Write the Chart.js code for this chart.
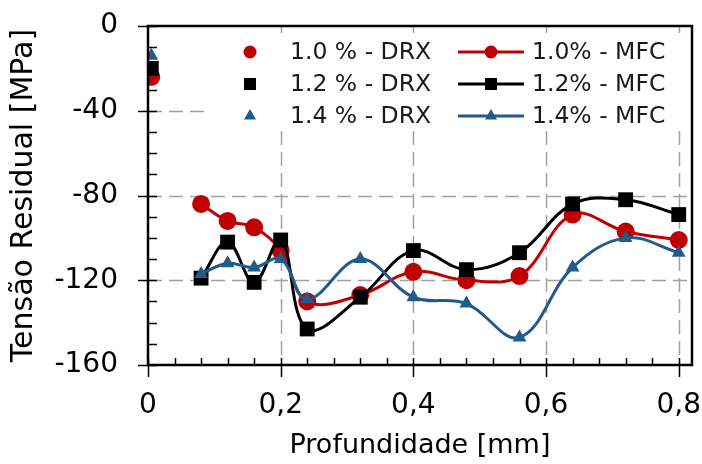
<!DOCTYPE html>
<html>
<head>
<meta charset="utf-8">
<script src="https://cdn.jsdelivr.net/npm/chart.js@4/dist/chart.umd.min.js"></script>
<style>
  html, body { margin: 0; padding: 0; background: #fff; }
  #wrap { width: 702px; height: 464px; }
</style>
</head>
<body>
<div id="wrap"><canvas id="chart" width="702" height="464"></canvas></div>
<script>
// depth [mm] of the MFC measurements
const depth = [0.08, 0.12, 0.16, 0.2, 0.24, 0.32, 0.4, 0.48, 0.56, 0.64, 0.72, 0.8];
// residual stress [MPa], MFC curves
const mfc10 = [-84, -92, -95, -106, -130, -127, -116, -120, -118, -89, -97, -101];
const mfc12 = [-119, -102, -121, -101, -143, -128, -106, -115, -107, -84, -82, -89];
const mfc14 = [-117, -112, -114, -110, -129, -110, -128, -131, -147, -114, -100, -107];
// surface values measured by DRX
const drxDepth = [0.005];
const drx10 = [-24];
const drx12 = [-20];
const drx14 = [-14];
// tick labels
const xTicks = [0, 0.2, 0.4, 0.6, 0.8];
const yTicks = [-160, -120, -80, -40, 0];

const RED = '#C00000';
const BLACK = '#000000';
const BLUE = '#235A8C';
const FONT = "'DejaVu Sans', sans-serif";

const pts = (xs, ys) => xs.map((x, i) => ({ x, y: ys[i] }));

// small marker painter, used for the legend
function marker(ctx, style, r, x, y, color) {
  ctx.fillStyle = color;
  ctx.beginPath();
  if (style === 'circle') {
    ctx.arc(x, y, r, 0, Math.PI * 2);
  } else if (style === 'rect') {
    const s = r * Math.SQRT1_2;
    ctx.rect(x - s, y - s, 2 * s, 2 * s);
  } else {
    for (let k = 0; k < 3; k++) {
      const a = k * 2 * Math.PI / 3;
      const px = x + Math.sin(a) * r, py = y - Math.cos(a) * r;
      k ? ctx.lineTo(px, py) : ctx.moveTo(px, py);
    }
    ctx.closePath();
  }
  ctx.fill();
}

const LEG_BOX = { x: 207, y: 33, w: 482, h: 96 };

const decor = {
  id: 'decor',
  beforeDatasetsDraw(chart) {
    const { ctx, chartArea: a, scales: { x, y } } = chart;
    ctx.save();
    ctx.strokeStyle = '#A0A0A0';
    ctx.lineWidth = 1.5;
    ctx.setLineDash([14, 7]);
    xTicks.filter(v => v > 0).forEach(v => {
      const px = Math.round(x.getPixelForValue(v)) + 0.5;
      ctx.beginPath(); ctx.moveTo(px, a.top); ctx.lineTo(px, a.bottom); ctx.stroke();
    });
    yTicks.filter(v => v > -160 && v < 0).forEach(v => {
      const py = Math.round(y.getPixelForValue(v)) + 0.5;
      ctx.beginPath(); ctx.moveTo(a.left, py); ctx.lineTo(a.right, py); ctx.stroke();
    });
    ctx.setLineDash([]);
    // legend background hides the grid behind it
    ctx.fillStyle = '#fff';
    ctx.fillRect(LEG_BOX.x, LEG_BOX.y, LEG_BOX.w, LEG_BOX.h);
    ctx.restore();
  },
  afterDraw(chart) {
    const { ctx, chartArea: a, scales: { x, y } } = chart;
    ctx.save();
    // ticks
    ctx.strokeStyle = '#000';
    ctx.lineWidth = 1.5;
    for (let v = -160; v <= 0; v += 10) {
      const py = Math.round(y.getPixelForValue(v)) + 0.5;
      const major = v % 40 === 0;
      ctx.beginPath();
      ctx.moveTo(major ? a.left - 10 : a.left, py);
      ctx.lineTo(a.left + 9, py);
      ctx.stroke();
    }
    for (let i = 0; i <= 20; i++) {
      const v = i * 0.04;
      const px = Math.round(x.getPixelForValue(v)) + 0.5;
      const major = i % 5 === 0;
      ctx.beginPath();
      ctx.moveTo(px, major ? a.bottom + 12 : a.bottom);
      ctx.lineTo(px, a.bottom - 7);
      ctx.stroke();
    }
    // frame
    ctx.lineWidth = 2.5;
    ctx.strokeRect(a.left, a.top, a.right - a.left, a.bottom - a.top);

    // legend
    const rows = [52, 84, 116];
    ctx.font = '23.5px ' + FONT;
    ctx.textBaseline = 'middle';
    ctx.textAlign = 'left';
    chart.data.datasets.forEach(ds => {
      const r = rows[ds.row];
      if (ds.showLine === false) {
        marker(ctx, ds.pointStyle, ds.legendR, 250, r, ds.backgroundColor);
        ctx.fillStyle = '#1a1a1a';
        ctx.fillText(ds.label, 290, r + 1);
      } else {
        ctx.strokeStyle = ds.borderColor;
        ctx.lineWidth = 3;
        ctx.beginPath(); ctx.moveTo(458, r); ctx.lineTo(524, r); ctx.stroke();
        marker(ctx, ds.pointStyle, ds.legendR, 491, r, ds.backgroundColor);
        ctx.fillStyle = '#1a1a1a';
        ctx.fillText(ds.label, 532, r + 1);
      }
    });
    ctx.restore();
  }
};

const drxSet = (label, ys, style, color, radius, legendR, row) => ({
  label, data: pts(drxDepth, ys), showLine: false,
  pointStyle: style, pointRadius: radius, pointBorderWidth: 0,
  backgroundColor: color, borderColor: color, legendR, row, order: 10 - row
});
const mfcSet = (label, ys, style, color, radius, legendR, row) => ({
  label, data: pts(depth, ys), showLine: true, tension: 0.38,
  borderWidth: 3, borderColor: color, backgroundColor: color,
  pointStyle: style, pointRadius: radius, pointBorderWidth: 0,
  legendR, row, order: 6 - row
});

const noPad = s => { s.paddingLeft = s.paddingRight = s.paddingTop = s.paddingBottom = 0; };

new Chart(document.getElementById('chart'), {
  type: 'line',
  data: {
    datasets: [
      drxSet('1.0 % - DRX', drx10, 'circle', RED, 9, 6.5, 0),
      drxSet('1.2 % - DRX', drx12, 'rect', BLACK, 10.5, 8.5, 1),
      drxSet('1.4 % - DRX', drx14, 'triangle', BLUE, 8, 7, 2),
      mfcSet('1.0% - MFC', mfc10, 'circle', RED, 9, 6.5, 0),
      mfcSet('1.2% - MFC', mfc12, 'rect', BLACK, 10.5, 8.5, 1),
      mfcSet('1.4% - MFC', mfc14, 'triangle', BLUE, 8, 7, 2)
    ]
  },
  options: {
    responsive: false,
    animation: false,
    layout: { autoPadding: false, padding: { left: 0, top: 26, right: 10, bottom: 0 } },
    plugins: { legend: { display: false }, tooltip: { enabled: false } },
    scales: {
      x: {
        type: 'linear', min: 0, max: 0.82,
        afterBuildTicks: s => { s.ticks = xTicks.map(v => ({ value: v })); },
        afterFit: s => { s.height = 99; noPad(s); },
        grid: { display: false, drawTicks: false },
        border: { display: false },
        ticks: {
          color: '#000', padding: 24, maxRotation: 0,
          font: { family: FONT, size: 28 },
          callback: v => v === 0 ? '0' : v.toFixed(1).replace('.', ',')
        },
        title: {
          display: true, text: 'Profundidade [mm]', color: '#000',
          font: { family: FONT, size: 27 }, padding: { top: 0, bottom: 2 }
        }
      },
      y: {
        min: -160, max: 0,
        afterBuildTicks: s => { s.ticks = yTicks.map(v => ({ value: v })); },
        afterFit: s => { s.width = 148; noPad(s); },
        grid: { display: false, drawTicks: false },
        border: { display: false },
        ticks: {
          color: '#000', padding: 30,
          font: { family: FONT, size: 28 },
          callback: v => String(v)
        },
        title: {
          display: true, text: 'Tensão Residual [MPa]', color: '#000',
          font: { family: FONT, size: 30 }, padding: { top: 6, bottom: 0 }
        }
      }
    }
  },
  plugins: [decor]
});
</script>
</body>
</html>
